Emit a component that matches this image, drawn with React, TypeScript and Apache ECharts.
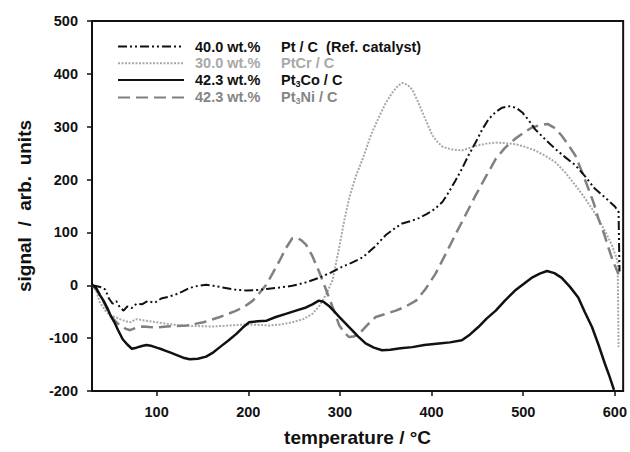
import React, { useEffect, useRef } from "react";
import * as echarts from "echarts";

const FONT = 'Arial, "Liberation Sans", Helvetica, sans-serif';

const xTickValues = [100, 200, 300, 400, 500, 600];

const seriesNames = ["Pt / C", "PtCr / C", "Pt3Co / C", "Pt3Ni / C"];
const loadings = ["40.0 wt.%", "30.0 wt.%", "42.3 wt.%", "42.3 wt.%"];

const ptC: number[][] = [
  [30, 0], [35, -2], [40, -4], [44, -8], [48, -25], [52, -35], [56, -30], [60, -42], [64, -48], [68, -40],
  [73, -43], [78, -35], [84, -36], [90, -30], [98, -33], [105, -25], [112, -22], [120, -18], [128, -12],
  [136, -5], [145, -1], [154, 1], [162, -1], [172, -4], [185, -8], [198, -10], [210, -9], [220, -7],
  [235, -4], [248, -1], [262, 5], [277, 14], [290, 24], [300, 33], [312, 42], [325, 53], [338, 73],
  [350, 95], [360, 108], [368, 117], [378, 122], [386, 127], [395, 135], [404, 145], [412, 158],
  [419, 177], [426, 198], [433, 220], [440, 245], [448, 270], [455, 294], [462, 314], [470, 328],
  [477, 336], [486, 339], [493, 335], [499, 327], [506, 312], [513, 295], [524, 276], [535, 258],
  [546, 242], [557, 227], [568, 205], [578, 183], [590, 165], [600, 149], [604, 139], [605, 26],
];

const ptCr: number[][] = [
  [30, 0], [34, -10], [38, -32], [44, -48], [49, -57], [55, -60], [60, -64], [66, -68], [71, -70],
  [78, -64], [85, -66], [92, -68], [100, -70], [112, -73], [125, -76], [140, -77], [161, -78],
  [180, -76], [198, -74], [212, -75], [223, -76], [236, -74], [248, -70], [260, -64], [270, -54],
  [278, -38], [285, -17], [292, 10], [299, 70], [305, 125], [310, 164], [317, 205], [325, 240],
  [334, 285], [343, 320], [350, 345], [357, 364], [363, 377], [368, 383], [374, 379], [379, 370],
  [385, 348], [390, 327], [396, 303], [401, 283], [407, 270], [412, 262], [422, 257], [433, 255],
  [442, 260], [451, 265], [460, 268], [470, 270], [480, 269], [491, 267], [502, 262], [513, 255],
  [524, 245], [535, 233], [546, 213], [557, 189], [566, 168], [575, 145], [583, 122], [590, 100],
  [597, 75], [603, 45], [604, -117],
];

const pt3Co: number[][] = [
  [30, 0], [34, -5], [38, -18], [42, -29], [46, -42], [50, -58], [54, -70], [58, -85], [63, -102],
  [68, -112], [73, -120], [78, -118], [84, -115], [89, -113], [95, -115], [100, -118], [104, -120],
  [110, -124], [116, -128], [122, -132], [129, -137], [136, -140], [145, -139], [154, -135],
  [161, -128], [169, -117], [178, -105], [187, -92], [194, -80], [201, -70], [210, -68], [220, -67],
  [230, -60], [241, -54], [252, -48], [263, -42], [270, -36], [277, -29], [282, -31], [288, -39],
  [294, -50], [300, -61], [310, -79], [320, -97], [328, -110], [337, -118], [346, -123], [355, -122],
  [366, -119], [379, -117], [392, -113], [408, -110], [420, -108], [433, -104], [442, -93],
  [451, -79], [460, -63], [470, -48], [480, -29], [491, -10], [500, 2], [509, 14], [518, 22],
  [526, 27], [534, 23], [542, 14], [551, -3], [560, -23], [567, -50], [575, -79], [582, -112],
  [589, -148], [594, -172], [599, -198],
];

const pt3Ni: number[][] = [
  [30, 0], [35, -10], [40, -23], [45, -42], [49, -57], [55, -68], [60, -76], [66, -82], [71, -85],
  [78, -80], [85, -78], [92, -79], [100, -80], [111, -78], [122, -77], [133, -76], [142, -73],
  [151, -70], [160, -65], [169, -60], [178, -54], [187, -48], [196, -40], [205, -29], [212, -15],
  [220, 2], [227, 24], [234, 46], [241, 70], [248, 89], [253, 90], [258, 85], [263, 77], [270, 55],
  [277, 27], [283, 0], [288, -23], [294, -50], [299, -75], [305, -90], [310, -98], [315, -97],
  [321, -92], [330, -75], [339, -60], [350, -54], [361, -48], [372, -40], [383, -29], [393, -8],
  [404, 21], [415, 58], [426, 96], [437, 133], [448, 170], [459, 205], [470, 239], [480, 260],
  [491, 277], [500, 288], [509, 298], [518, 303], [527, 305], [535, 297], [542, 283], [549, 266],
  [557, 245], [564, 215], [571, 183], [577, 155], [582, 126], [588, 98], [593, 71], [598, 45],
  [604, 21],
];

const legendLabels: Record<string, string> = {
  "Pt / C": `{w|${loadings[0]}}{n|Pt / C  (Ref. catalyst)}`,
  "PtCr / C": `{w|${loadings[1]}}{n|PtCr / C}`,
  "Pt3Co / C": `{w|${loadings[2]}}{n|Pt}{s|3}{n|Co / C}`,
  "Pt3Ni / C": `{w|${loadings[3]}}{n|Pt}{s|3}{n|Ni / C}`,
};

export default function App() {
  const ref = useRef<HTMLDivElement>(null);
  useEffect(() => {
    if (!ref.current) return;
    const chart = echarts.init(ref.current, undefined, { renderer: "svg" });
    const axisText = { color: "#111", fontSize: 14.5, fontWeight: "bold" as const, fontFamily: FONT };
    chart.setOption({
      animation: false,
      backgroundColor: "#ffffff",
      grid: {
        left: 92,
        right: 3,
        top: 21,
        bottom: 58,
        show: true,
        borderColor: "#111",
        borderWidth: 2,
      },
      legend: {
        orient: "vertical",
        left: 112,
        top: 34,
        itemWidth: 66,
        itemHeight: 12,
        itemGap: 1.8,
        selectedMode: false,
        itemStyle: { opacity: 0 },
        data: [
          { name: seriesNames[0], textStyle: { color: "#111" } },
          { name: seriesNames[1], textStyle: { color: "#a8a8a8" } },
          { name: seriesNames[2], textStyle: { color: "#111" } },
          { name: seriesNames[3], textStyle: { color: "#858585" } },
        ],
        formatter: (name: string) => legendLabels[name] || name,
        textStyle: {
          fontSize: 14.5,
          fontWeight: "bold",
          fontFamily: FONT,
          rich: {
            w: { width: 86, padding: [0, 0, 0, 6], fontSize: 14.5, fontWeight: "bold", fontFamily: FONT, lineHeight: 16 },
            n: { fontSize: 14.5, fontWeight: "bold", fontFamily: FONT, lineHeight: 16 },
            s: { fontSize: 9, fontWeight: "bold", fontFamily: FONT, lineHeight: 16, verticalAlign: "bottom", padding: [5, 0, 0, 0] },
          },
        },
      },
      xAxis: {
        type: "value",
        min: 29.5,
        max: 609,
        name: "temperature / °C",
        nameLocation: "middle",
        nameGap: 37,
        nameTextStyle: { ...axisText, fontSize: 19 },
        axisLine: { show: true, onZero: false, lineStyle: { color: "#111", width: 2 } },
        axisTick: { show: true, length: 5, customValues: xTickValues, lineStyle: { color: "#111", width: 1.5 } },
        axisLabel: { ...axisText, margin: 13, customValues: xTickValues },
        splitLine: { show: false },
      },
      yAxis: {
        type: "value",
        min: -200,
        max: 500,
        interval: 100,
        name: "signal  /  arb.  units",
        nameLocation: "middle",
        nameGap: 58,
        nameTextStyle: { ...axisText, fontSize: 19 },
        axisLine: { show: true, onZero: false, lineStyle: { color: "#111", width: 2 } },
        axisTick: { show: true, length: 5, lineStyle: { color: "#111", width: 1.5 } },
        axisLabel: { ...axisText, margin: 14 },
        splitLine: { show: false },
      },
      series: [
        {
          name: seriesNames[1],
          type: "line",
          data: ptCr,
          symbol: "none",
          lineStyle: { color: "#a8a8a8", width: 2, type: [2, 1.5] },
          itemStyle: { color: "#a8a8a8" },
        },
        {
          name: seriesNames[3],
          type: "line",
          data: pt3Ni,
          symbol: "none",
          lineStyle: { color: "#808080", width: 2.5, type: [12, 6] },
          itemStyle: { color: "#808080" },
        },
        {
          name: seriesNames[0],
          type: "line",
          data: ptC,
          symbol: "none",
          lineStyle: { color: "#111", width: 2, type: [9, 3, 2, 3, 2, 3] },
          itemStyle: { color: "#111" },
        },
        {
          name: seriesNames[2],
          type: "line",
          data: pt3Co,
          symbol: "none",
          lineStyle: { color: "#111", width: 2.5, type: "solid" },
          itemStyle: { color: "#111" },
        },
      ],
    });
    return () => chart.dispose();
  }, []);
  return (
    <div
      ref={ref}
      style={{ position: "fixed", left: 0, top: 0, width: 630, height: 452, background: "#fff" }}
    />
  );
}
